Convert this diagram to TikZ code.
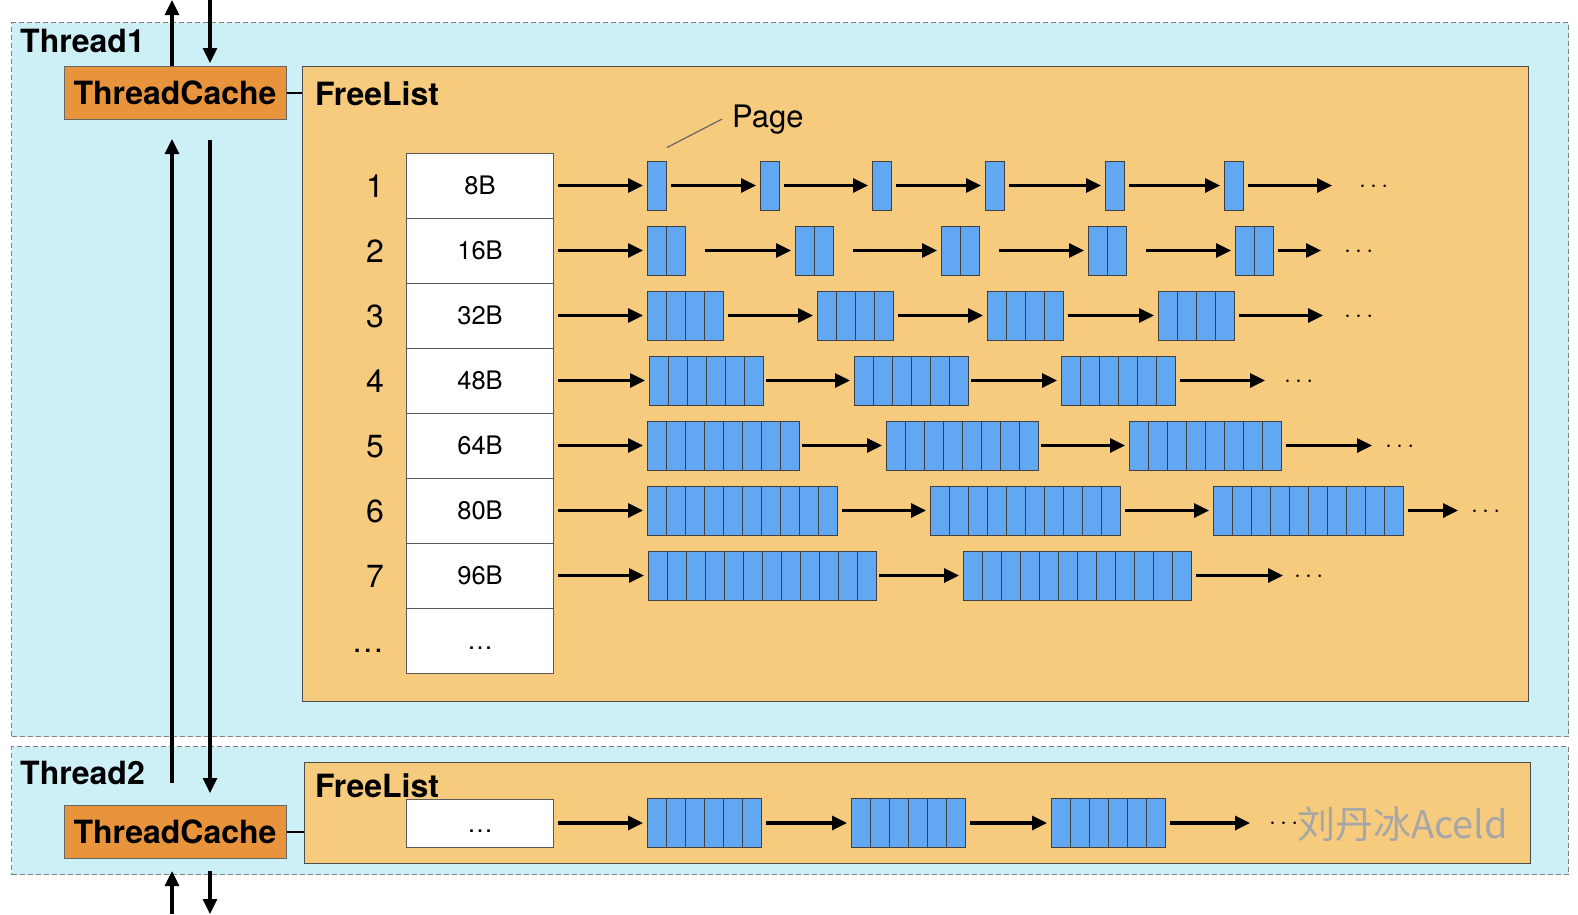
\documentclass[tikz,border=0pt]{standalone}
\usepackage{fontspec}
\setmainfont{TeX Gyre Heros}
\newfontfamily\cjkfont{Noto Sans CJK SC}
\usetikzlibrary{arrows.meta,calc,positioning}
\definecolor{threadbg}{HTML}{CDF0F7}
\definecolor{cacheorange}{HTML}{E7943C}
\definecolor{listorange}{HTML}{F6CB7D}
\definecolor{pageblue}{HTML}{62A7F2}
\tikzset{%
thread/.style={draw=black!50, fill=threadbg, dash pattern=on 5pt off 3pt, line width=1.2pt, anchor=north west, minimum width=1557, inner sep=0},
threadname/.style={font=\bfseries\fontsize{32}{36}\selectfont, anchor=base west, inner sep=0},
cache/.style={draw=black!60, fill=cacheorange, line width=1pt, minimum width=222, minimum height=53, inner sep=0, font=\bfseries\fontsize{32}{36}\selectfont},
freelist/.style={draw=black!70, fill=listorange, line width=1pt, anchor=north west, minimum width=1226, inner sep=0},
sizecell/.style={draw=black!65, fill=white, line width=1pt, minimum width=147, minimum height=65, inner sep=0, font=\fontsize{25.5}{30}\selectfont, text height=18pt, text depth=0pt},
rownum/.style={font=\fontsize{32}{38}\selectfont, inner sep=0, text height=23pt, text depth=0pt},
pages/.style={draw=black!75, fill=pageblue, line width=1pt, minimum height=49, inner sep=0, anchor=west},
divider/.style={draw=black!75, line width=1pt},
link/.style={-{Triangle[length=15pt,width=14pt]}, line width=3.2pt},
more/.style={inner sep=0, anchor=west, font=\fontsize{26}{30}\selectfont, text height=13pt, text depth=0pt},
tie/.style={line width=2pt},
pointer/.style={draw=black!60, line width=1.2pt},
watermark/.style={font=\cjkfont\fontsize{38}{40}\selectfont, text=black!35, inner sep=0, anchor=west}
}

\begin{document}
\begin{tikzpicture}[x=1pt,y=-1pt]
\useasboundingbox (0,0) rectangle (1578,914);

% threads
\node[thread, minimum height=714] (th1) at (11,22)  {};
\node[thread, minimum height=128] (th2) at (11,746) {};
\node[threadname]                 (name1) at (20,52.5) {Thread1};
\node[threadname]                 (name2) at (20,784)  {Thread2};

% free lists and caches
\node[freelist, minimum height=635] (fl1) at (302,66)  {};
\node[freelist, minimum height=101] (fl2) at (304,762) {};
\node[threadname]                   (fltitle1) at (315,105) {FreeList};
\node[cache]                        (tc1) at (175,93)  {ThreadCache};
\node[cache]                        (tc2) at (175,832) {ThreadCache};
\draw[tie] (tc1) -- (tc1 -| fl1.west);
\draw[tie] (tc2) -- (tc2 -| fl2.west);

% size classes
\foreach \r/\n/\t in {1/1/8B,2/2/16B,3/3/32B,4/4/48B,5/5/64B,6/6/80B,7/7/96B,8/\dots/\dots}
{
  \node[sizecell]             (s\r) at (480,{120.5+65*\r}) {\t};
  \node[rownum,left=22pt]     (n\r) at (s\r.west)          {\n};
}
\node[sizecell, minimum height=48] (sb) at (480,823) {\dots};
\node[threadname]                   (fltitle2) at (315,797) {FreeList};

\node[anchor=base west, inner sep=0, font=\fontsize{31}{36}\selectfont] (page) at (732,127) {Page};

% page chains
\foreach \r/\y/\k/\n/\xs/\dx/\sh/\gap in {
  1/185.5/1/6/{647,760,872,985,1105,1224}/1359/27/4,
  2/250.5/2/5/{647,795,941,1088,1235}/1344/23/19,
  3/315.5/4/4/{647,817,987,1158}/1344/21/4,
  4/380.5/6/3/{649,854,1061}/1284/19/2,
  5/445.5/8/3/{647,886,1129}/1385/13/2,
  6/510.5/10/3/{647,930,1213}/1471/13/4,
  7/575.5/12/2/{648,963}/1294/11/2,
  b/823/6/3/{647,851,1051}/1269/19/4}
{
  \foreach \x [count=\i, remember=\i as \j (initially 0)] in \xs
  {
    \node[pages, minimum width=\k*19] (g\r-\i) at (\x,\y) {};
    \foreach \c in {2,...,\k}
      \draw[divider] ($(g\r-\i.north west)+({(\c-1)*19},0)$) -- ($(g\r-\i.south west)+({(\c-1)*19},0)$);
    \ifnum\i=1
      \draw[link, shorten <=4pt, shorten >=4pt] (s\r) -- (g\r-\i);
    \else
      \draw[link, shorten <=\gap pt, shorten >=4pt] (g\r-\j) -- (g\r-\i);
    \fi
  }
  \node[more] (d\r) at (\dx,\y) {$\cdots$};
  \draw[link, shorten <=4pt, shorten >=\sh pt] (g\r-\n) -- (d\r);
}
\draw[pointer] ([xshift=-10pt]page.west) -- ([yshift=13pt]g1-1.north east);
\node[watermark] (mark) at (1297,824) {刘丹冰Aceld};

% in and out of the caches
\coordinate (out1) at (172,0);
\coordinate (in1)  at (210,0);
\coordinate (in2)  at (172,914);
\coordinate (out2) at (210,914);
\draw[link]                                 ([xshift=-3pt]tc1.north) -- (out1);
\draw[link, shorten >=3pt]                  (in1) -- ([xshift=35pt]tc1.north);
\draw[link, shorten <=22pt, shorten >=19pt] ([xshift=-3pt]tc2.north) -- ([xshift=-3pt]tc1.south);
\draw[link, shorten <=20pt, shorten >=12pt] ([xshift=35pt]tc1.south) -- ([xshift=35pt]tc2.north);
\draw[link, shorten >=12pt]                 (in2) -- ([xshift=-3pt]tc2.south);
\draw[link, shorten <=12pt]                 ([xshift=35pt]tc2.south) -- (out2);
\end{tikzpicture}
\end{document}
